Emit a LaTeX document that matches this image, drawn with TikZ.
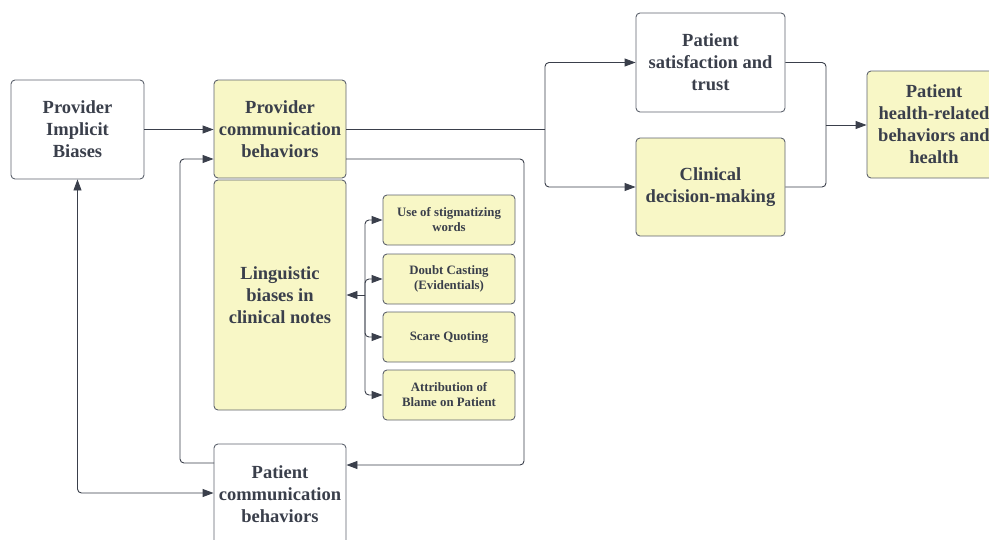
\documentclass[tikz,border=0pt]{standalone}
\usepackage{fontspec}
\setmainfont{Liberation Serif}
\usetikzlibrary{arrows.meta}
\definecolor{ink}{HTML}{3A3F4B}
\definecolor{edge}{HTML}{5E636E}
\definecolor{fillY}{HTML}{F8F7C6}
\begin{document}
\begin{tikzpicture}[x=1pt,y=-1pt,
  box/.style={draw=edge, line width=0.9pt, rounded corners=4pt, align=center,
    font=\bfseries\fontsize{18.5}{22}\selectfont, text=ink, inner sep=0pt, fill=white},
  ybox/.style={box, fill=fillY},
  sbox/.style={ybox, font=\bfseries\fontsize{12.8}{15}\selectfont,
    minimum width=132pt, minimum height=50pt},
  arr/.style={draw=ink, line width=0.9pt, rounded corners=4pt,
    -{Triangle[length=11pt,width=8pt]}},
  darr/.style={draw=ink, line width=0.9pt, rounded corners=4pt,
    {Triangle[length=11pt,width=8pt]}-{Triangle[length=11pt,width=8pt]}},
  ln/.style={draw=ink, line width=0.9pt, rounded corners=4pt}]
\useasboundingbox (0,0) rectangle (989,539);

\node[box, minimum width=133pt, minimum height=99pt] (pib) at (77.5,129.5) {Provider\\Implicit\\Biases};
\node[ybox, minimum width=132pt, minimum height=98pt] (pcb) at (280,129) {Provider\\communication\\behaviors};
\node[ybox, minimum width=132pt, minimum height=230pt] (lb) at (280,295) {Linguistic\\biases in\\clinical notes};
\node[sbox] (s1) at (449,220) {Use of stigmatizing\\words};
\node[sbox] (s2) at (449,279) {Doubt Casting\\(Evidentials)};
\node[sbox] (s3) at (449,337) {Scare Quoting};
\node[sbox] (s4) at (449,395) {Attribution of\\Blame on Patient};
\node[box, minimum width=132pt, minimum height=100pt] (pat) at (280,494) {Patient\\communication\\behaviors};
\node[box, minimum width=149pt, minimum height=99pt] (sat) at (710.5,62.5) {Patient\\satisfaction and\\trust};
\node[ybox, minimum width=149pt, minimum height=98pt] (cdm) at (710.5,187) {Clinical\\decision-making};
\node[ybox, minimum width=134pt, minimum height=107pt] (hl) at (934,124.5) {Patient\\health-related\\behaviors and\\health};

% provider implicit biases -> provider communication
\draw[arr] (pib.east) -- (pcb.west |- pib.east);

% branch to outcomes
\coordinate (br) at (545,129);
\draw[ln] (pcb.east) -- (br);
\draw[arr] (br) |- (sat.west);
\draw[arr] (br) |- (cdm.west);

% merge to health
\coordinate (mg) at (826,125);
\draw[ln] (sat.east) -| (mg);
\draw[ln] (cdm.east) -| (mg);
\draw[arr] (mg) -- (hl.west |- mg);

% feedback loop provider -> patient
\coordinate (l1) at (346,159);
\coordinate (l2) at (524,159);
\coordinate (l3) at (524,465);
\draw[arr] (l1) -- (l2) -- (l3) -- (pat.east |- l3);

% patient -> provider
\coordinate (p1) at (214,463);
\coordinate (p2) at (180,463);
\coordinate (p3) at (180,159);
\draw[arr] (p1) -- (p2) -- (p3) -- (pcb.west |- p3);

% implicit biases <-> patient
\coordinate (d1) at (77.5,493);
\draw[darr] (pib.south) -- (d1) -- (pat.west |- d1);

% linguistic tree
\coordinate (j) at (365,295);
\draw[arr] (j) -- (lb.east |- j);
\foreach \s in {s1,s2,s3,s4} \draw[arr] (j) |- (\s.west);
\end{tikzpicture}
\end{document}
